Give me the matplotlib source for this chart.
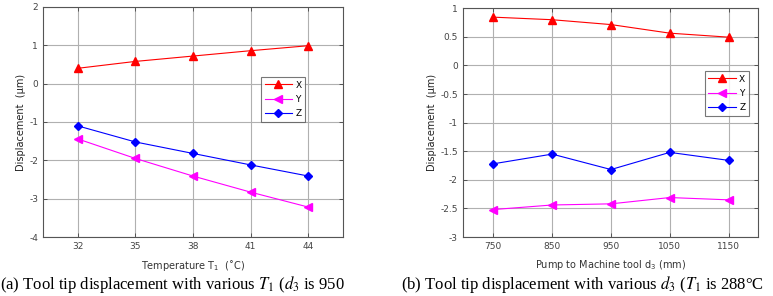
import matplotlib
matplotlib.use("Agg")
from matplotlib import pyplot as plt

plt.rcParams["mathtext.fontset"] = "stix"

# panel (a): temperature sweep
temps = ["32", "35", "38", "41", "44"]
a_x = [0.40, 0.58, 0.72, 0.86, 0.99]
a_y = [-1.44, -1.95, -2.41, -2.83, -3.22]
a_z = [-1.10, -1.52, -1.82, -2.12, -2.41]

# panel (b): pump to machine tool distance
dists = ["750", "850", "950", "1050", "1150"]
b_x = [0.845, 0.80, 0.715, 0.565, 0.495]
b_y = [-2.52, -2.44, -2.42, -2.31, -2.35]
b_z = [-1.72, -1.55, -1.82, -1.52, -1.66]

yticks_a = [2, 1, 0, -1, -2, -3, -4]
yticks_b = [1, 0.5, 0, -0.5, -1, -1.5, -2, -2.5, -3]

fig = plt.figure(figsize=(7.73, 2.96), dpi=100)
ax1 = fig.add_axes([0.0556, 0.1993, 0.3881, 0.7771])
ax2 = fig.add_axes([0.5986, 0.1993, 0.3820, 0.7727])


def style(ax, labels, yt, ylim, xlim, xlabel):
    idx = range(1, len(labels) + 1)
    ax.set_xticks(list(idx))
    ax.set_xticklabels(labels)
    ax.set_yticks(yt)
    ax.set_yticklabels([("%g" % v) for v in yt])
    ax.set_xlim(*xlim)
    ax.set_ylim(*ylim)
    ax.grid(True, color="#b0b0b0", linewidth=0.8)
    ax.set_axisbelow(True)
    ax.tick_params(direction="in", length=3, width=0.6, labelsize=6.5,
                   colors="#444444", top=True, right=True)
    for s in ax.spines.values():
        s.set_color("#555555")
        s.set_linewidth(0.8)
    ax.set_xlabel(xlabel, fontsize=7, color="#333333", labelpad=5)
    ax.set_ylabel("Displacement  (\u00b5m)", fontsize=7, color="#222222", labelpad=2)


def draw(ax, xs, ys, zs):
    n = range(1, len(xs) + 1)
    ax.plot(n, xs, color="red", marker="^", markersize=5.5, linewidth=0.8, label="X")
    ax.plot(n, ys, color="magenta", marker="<", markersize=5.5, linewidth=0.8, label="Y")
    ax.plot(n, zs, color="blue", marker="D", markersize=4, linewidth=0.8, label="Z")


def legend(ax, anchor):
    leg = ax.legend(loc="upper left", bbox_to_anchor=anchor, fontsize=6.5,
                    frameon=True, fancybox=False, edgecolor="#555555",
                    handlelength=3.0, borderpad=0.4, labelspacing=0.6,
                    handletextpad=0.4, borderaxespad=0)
    leg.get_frame().set_linewidth(0.8)


draw(ax1, a_x, a_y, a_z)
style(ax1, temps, yticks_a, (-4, 2), (0.4, 5.6), "Temperature T$_\\mathregular{1}$  (\u02daC)")
legend(ax1, (0.727, 0.696))

draw(ax2, b_x, b_y, b_z)
style(ax2, dists, yticks_b, (-3, 1), (0.48, 5.5), "Pump to Machine tool d$_\\mathregular{3}$ (mm)")
legend(ax2, (0.82, 0.726))

fig.text(0.0, 0.022, "(a) Tool tip displacement with various $T_1$ ($d_3$ is 950",
         fontsize=12, family="Liberation Serif", ha="left", va="baseline")
fig.text(0.519, 0.022, "(b) Tool tip displacement with various $d_3$ ($T_1$ is 288\u00b0C",
         fontsize=12, family="Liberation Serif", ha="left", va="baseline")

fig.savefig("out.png", dpi=100)
